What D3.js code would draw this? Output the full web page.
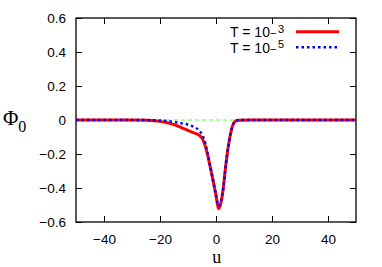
<!DOCTYPE html>
<html>
<head>
<meta charset="utf-8">
<script src="https://cdn.jsdelivr.net/npm/d3@7"></script>
<style>
  body { margin: 0; background: #fff; }
</style>
</head>
<body>
<div id="chart"></div>
<script>
// data
const uRed = [-50, -30, -24, -20, -17, -15, -12, -10, -8, -6, -5, -4, -3, -2, -1, 0, 0.9, 1.8, 2.6, 3.2, 4, 4.8, 5.7, 6.9, 8, 12, 50];
const phiRed = [0, 0, -0.002, -0.008, -0.018, -0.027, -0.048, -0.061, -0.075, -0.09, -0.106, -0.145, -0.205, -0.28, -0.36, -0.445, -0.522, -0.485, -0.4, -0.31, -0.2, -0.115, -0.046, -0.007, -0.001, 0, 0];
const uBlue = [-50, -30, -22, -18, -15, -12, -10, -8, -6, -5, -4, -3, -2, -1, 0, 0.9, 1.8, 2.6, 3.2, 4, 4.8, 5.7, 6.9, 8, 12, 50];
const phiBlue = [0, 0, -0.002, -0.005, -0.012, -0.02, -0.027, -0.04, -0.062, -0.085, -0.125, -0.195, -0.278, -0.358, -0.438, -0.505, -0.475, -0.4, -0.31, -0.2, -0.115, -0.046, -0.007, -0.001, 0, 0];
const uZero = [-50, 50];
const xTicks = [-40, -20, 0, 20, 40];
const yTicks = [-0.6, -0.4, -0.2, 0, 0.2, 0.4, 0.6];

const sans = "'Liberation Sans', Arial, sans-serif";
const serif = "'Liberation Serif', 'Times New Roman', serif";

const margin = { top: 18, right: 26, bottom: 45, left: 76 };
const W = 382, H = 267;
const width = W - margin.left - margin.right;
const height = H - margin.top - margin.bottom;

const svg = d3.select("#chart").append("svg")
  .attr("width", W).attr("height", H);
const g = svg.append("g")
  .attr("transform", `translate(${margin.left},${margin.top})`);

const x = d3.scaleLinear().domain([-50, 50]).range([0, width]);
const y = d3.scaleLinear().domain([-0.6, 0.6]).range([height, 0]);

// axes with inward ticks, mirrored on top and right
const tl = 6;
g.append("g").attr("transform", `translate(0,${height})`)
  .call(d3.axisBottom(x).tickValues(xTicks).tickSize(-tl).tickPadding(12).tickFormat(d3.format("d")));
g.append("g")
  .call(d3.axisTop(x).tickValues(xTicks).tickSize(-tl).tickFormat(""));
g.append("g")
  .call(d3.axisLeft(y).tickValues(yTicks).tickSize(-tl).tickPadding(10).tickFormat(d => d === 0 ? "0" : d3.format(".1f")(d)));
g.append("g").attr("transform", `translate(${width},0)`)
  .call(d3.axisRight(y).tickValues(yTicks).tickSize(-tl).tickFormat(""));

g.selectAll(".domain").remove();
g.selectAll(".tick line").attr("stroke", "#000").attr("stroke-width", 1);
g.selectAll(".tick text").attr("font-size", 13.5).attr("fill", "#000")
  .style("font-family", sans);

g.append("rect").attr("width", width).attr("height", height)
  .attr("fill", "none").attr("stroke", "#000").attr("stroke-width", 1.3);

const line = d3.line()
  .x(d => x(d[0])).y(d => y(d[1]))
  .curve(d3.curveMonotoneX);

// zero reference line
g.append("path")
  .datum(uZero.map(u => [u, 0]))
  .attr("d", line)
  .attr("fill", "none").attr("stroke", "#55ff33").attr("stroke-width", 1)
  .attr("stroke-dasharray", "4,3");

g.append("path")
  .datum(uRed.map((u, i) => [u, phiRed[i]]))
  .attr("d", line)
  .attr("fill", "none").attr("stroke", "#ff0000").attr("stroke-width", 3);

g.append("path")
  .datum(uBlue.map((u, i) => [u, phiBlue[i]]))
  .attr("d", line)
  .attr("fill", "none").attr("stroke", "#0000ff").attr("stroke-width", 2.5)
  .attr("stroke-dasharray", "2.5,3");

// legend
const legend = [
  { exp: "3", color: "#ff0000", dash: null, w: 3 },
  { exp: "5", color: "#0000ff", dash: "2.5,3", w: 2.5 }
];
legend.forEach((d, i) => {
  const base = 37.3 + i * 15.4;
  const t = svg.append("text")
    .attr("x", 284).attr("y", base)
    .attr("text-anchor", "end")
    .attr("font-size", 14)
    .style("font-family", sans);
  t.append("tspan").text("T = 10");
  t.append("tspan").attr("font-size", 11).text("\u2212");
  t.append("tspan").attr("dx", 1.5).attr("dy", -4.6).attr("font-size", 11).text(d.exp);
  svg.append("line")
    .attr("x1", 296).attr("x2", 339).attr("y1", base - 5.5).attr("y2", base - 5.5)
    .attr("stroke", d.color).attr("stroke-width", d.w)
    .attr("stroke-dasharray", d.dash);
});

// axis titles
const yl = svg.append("text")
  .attr("x", 3).attr("y", 125)
  .style("font-family", serif)
  .attr("font-size", 21);
yl.append("tspan").text("\u03A6");
yl.append("tspan").attr("dy", 6.5).attr("font-size", 16).text("0");

svg.append("text")
  .attr("x", 216.7).attr("y", 263)
  .attr("text-anchor", "middle")
  .style("font-family", serif)
  .attr("font-size", 18)
  .text("u");
</script>
</body>
</html>
